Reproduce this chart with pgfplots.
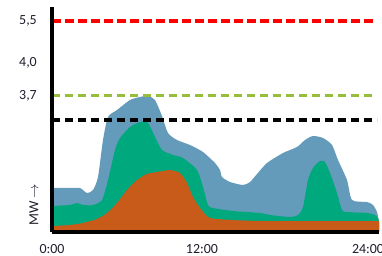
\documentclass[border=0pt]{standalone}
\usepackage{pgfplots}
\pgfplotsset{compat=1.18}
\usepackage{fontspec}
\setmainfont{Carlito}
\definecolor{cblue}{HTML}{659BBA}
\definecolor{cgreen}{HTML}{00A87D}
\definecolor{corange}{HTML}{C85A1A}
\definecolor{clime}{HTML}{96BE3C}
\definecolor{ctext}{HTML}{1E1E2E}
\begin{document}
\begin{tikzpicture}
\path[use as bounding box] (-52bp,-24bp) rectangle (330bp,232bp);
\begin{axis}[
  at={(0,0)}, anchor=south west,
  scale only axis, width=327bp, height=225bp,
  xmin=0, xmax=327, ymin=0, ymax=225,
  axis x line*=bottom, axis y line*=left,
  axis line style={line width=4bp, black, -},
  axis on top,
  xtick={0,150,316}, xticklabels={0:00,12:00,24:00},
  ytick={211,169,136.5}, yticklabels={{5,5},{4,0},{3,7}},
  major tick length=0pt,
  tick style={draw=none},
  font=\fontsize{14}{16}\selectfont,
  tick label style={text=ctext},
  xticklabel style={inner sep=0pt, anchor=north, yshift=-12bp},
  yticklabel style={inner sep=0pt, anchor=east, xshift=-15bp},
  clip=false,
]
% blue (total)
\addplot[draw=none, fill=cblue, smooth, tension=0.4] coordinates {
(0,44) (8,44) (18,44) (28,44) (35,39) (41,42) (46,55) (51,92) (56,115) (65,122)
(78,132) (88,135) (96,136) (103,132) (110,116) (116,99) (125,92) (138,87) (151,80)
(163,69) (168,62) (170,55) (178,50) (191,47) (198,50) (205,58) (215,69) (231,79)
(245,85) (253,92) (261,96) (271,94) (280,87) (286,72) (295,52) (300,32) (315,30)
(321,27) (325,20) (327,10)} \closedcycle;
% green
\addplot[draw=none, fill=cgreen, smooth, tension=0.4] coordinates {
(0,26) (18,27) (25,29) (31,27) (41,27) (50,32) (56,52) (63,82) (68,94) (78,105)
(88,110) (96,109) (103,95) (110,82) (121,77) (131,74) (145,62) (151,45) (156,27)
(161,24) (181,21) (208,19) (218,17) (238,15) (246,17) (251,25) (256,52) (261,64)
(268,71) (273,70) (278,59) (285,39) (290,22) (295,20) (315,19) (323,17) (326,14)
(327,10)} \closedcycle;
% orange
\addplot[draw=none, fill=corange, smooth, tension=0.4] coordinates {
(0,6) (18,7) (31,9) (45,13) (55,19) (65,29) (75,42) (85,52) (95,58) (105,60)
(118,62) (128,59) (135,49) (141,35) (148,24) (156,15) (165,13) (208,11) (327,11)}
\closedcycle;
% limit lines
\addplot[red, line width=3.5bp, dash pattern=on 9bp off 4bp] coordinates {(0,211) (323,211)};
\addplot[clime, line width=3.5bp, dash pattern=on 8bp off 5bp] coordinates {(0,136.5) (321,136.5)};
\addplot[black, line width=3.5bp, dash pattern=on 8bp off 5bp] coordinates {(0,112) (325,112)};
\node[rotate=90, text=ctext, font=\fontsize{14}{16}\selectfont] at (axis cs:-18,27) {MW $\rightarrow$};
\end{axis}
\end{tikzpicture}
\end{document}
